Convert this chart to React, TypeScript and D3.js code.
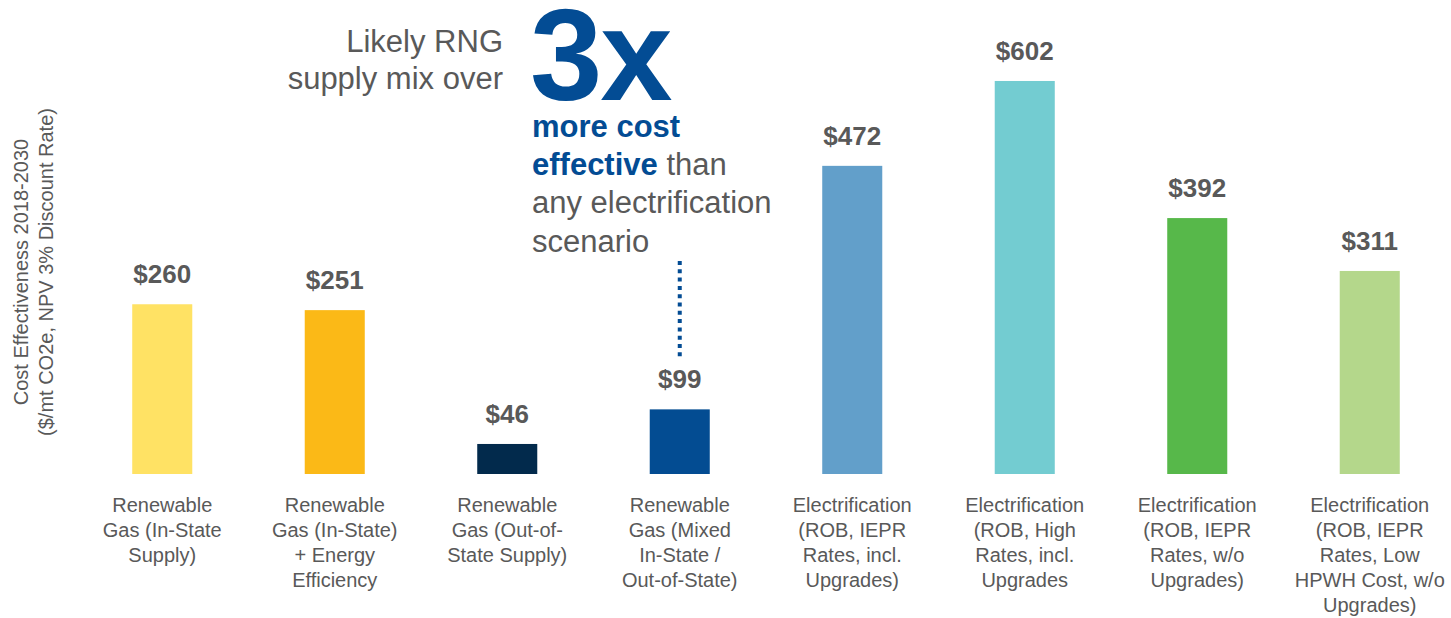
import React, { useEffect, useRef } from 'react'
import * as d3 from 'd3'

const categories: string[][] = [
  ['Renewable', 'Gas (In-State', 'Supply)'],
  ['Renewable', 'Gas (In-State)', '+ Energy', 'Efficiency'],
  ['Renewable', 'Gas (Out-of-', 'State Supply)'],
  ['Renewable', 'Gas (Mixed', 'In-State /', 'Out-of-State)'],
  ['Electrification', '(ROB, IEPR', 'Rates, incl.', 'Upgrades)'],
  ['Electrification', '(ROB, High', 'Rates, incl.', 'Upgrades'],
  ['Electrification', '(ROB, IEPR', 'Rates, w/o', 'Upgrades)'],
  ['Electrification', '(ROB, IEPR', 'Rates, Low', 'HPWH Cost, w/o', 'Upgrades)']
]

const values = [260, 251, 46, 99, 472, 602, 392, 311]

const barColors = ['#FFE264', '#FBB917', '#022A4C', '#034C92', '#629FCA', '#73CCD1', '#57B84A', '#B4D78B']

const axisTitle = ['Cost Effectiveness 2018-2030', '($/mt CO2e, NPV 3% Discount Rate)']

const GRAY = '#595959'
const BLUE = '#034C94'
const FONT = 'Arial, "Liberation Sans", sans-serif'

export default function App() {
  const ref = useRef<SVGSVGElement | null>(null)

  useEffect(() => {
    if (!ref.current) {
      return
    }
    const width = 1451
    const height = 618
    const baseline = 474

    const svg = d3.select(ref.current)
    svg.attr('viewBox', `0 0 ${width} ${height}`)
    svg.selectAll('*').remove()

    const ids = categories.map((_, i) => String(i))
    const x = d3.scaleBand().domain(ids).range([76, 1456]).paddingInner(0.652).paddingOuter(0.326)
    const y = d3.scaleLinear().domain([0, 700]).range([baseline, 17])

    const g = svg.append('g').attr('font-family', FONT)

    g.selectAll('rect.bar')
      .data(values)
      .enter()
      .append('rect')
      .attr('class', 'bar')
      .attr('x', (_, i) => x(String(i)) ?? 0)
      .attr('y', (d) => y(d))
      .attr('width', x.bandwidth())
      .attr('height', (d) => baseline - y(d))
      .attr('fill', (_, i) => barColors[i])

    g.selectAll('text.value')
      .data(values)
      .enter()
      .append('text')
      .attr('class', 'value')
      .attr('x', (_, i) => (x(String(i)) ?? 0) + x.bandwidth() / 2)
      .attr('y', (d) => y(d) - 21)
      .attr('text-anchor', 'middle')
      .attr('font-size', 26)
      .attr('font-weight', 'bold')
      .attr('fill', GRAY)
      .text((d) => `$${d}`)

    const labels = g
      .selectAll('text.cat')
      .data(categories)
      .enter()
      .append('text')
      .attr('class', 'cat')
      .attr('text-anchor', 'middle')
      .attr('font-size', 20)
      .attr('fill', GRAY)

    labels
      .selectAll('tspan')
      .data((d, i) => d.map((line) => ({ line, i })))
      .enter()
      .append('tspan')
      .attr('x', (d) => (x(String(d.i)) ?? 0) + x.bandwidth() / 2)
      .attr('y', (_, j) => 512 + j * 25)
      .text((d) => d.line)

    // axis title, rotated
    const title = g
      .append('text')
      .attr('transform', 'translate(28,272) rotate(-90)')
      .attr('text-anchor', 'middle')
      .attr('font-size', 20)
      .attr('fill', GRAY)
    axisTitle.forEach((line, j) => {
      title.append('tspan').attr('x', 0).attr('y', j * 25).text(line)
    })

    // annotation
    const note = g.append('g')
    note
      .append('text')
      .attr('x', 503)
      .attr('y', 52)
      .attr('text-anchor', 'end')
      .attr('font-size', 31)
      .attr('fill', GRAY)
      .text('Likely RNG')
    note
      .append('text')
      .attr('x', 503)
      .attr('y', 89)
      .attr('text-anchor', 'end')
      .attr('font-size', 31)
      .attr('fill', GRAY)
      .text('supply mix over')
    note
      .append('text')
      .attr('x', 530)
      .attr('y', 100)
      .attr('font-size', 130)
      .attr('font-weight', 'bold')
      .attr('letter-spacing', -2)
      .attr('fill', BLUE)
      .text('3x')

    const para = note.append('text').attr('font-size', 31).attr('fill', GRAY)
    para.append('tspan').attr('x', 532).attr('y', 137).attr('font-weight', 'bold').attr('fill', BLUE).text('more cost')
    para.append('tspan').attr('x', 532).attr('y', 175).attr('font-weight', 'bold').attr('fill', BLUE).text('effective')
    para.append('tspan').text(' than')
    para.append('tspan').attr('x', 532).attr('y', 213).text('any electrification')
    para.append('tspan').attr('x', 532).attr('y', 252).text('scenario')

    const cx = (x('3') ?? 0) + x.bandwidth() / 2
    note
      .append('line')
      .attr('x1', cx)
      .attr('x2', cx)
      .attr('y1', 261)
      .attr('y2', 357)
      .attr('stroke', BLUE)
      .attr('stroke-width', 4)
      .attr('stroke-dasharray', '4 4.3')
  }, [])

  return (
    <svg
      ref={ref}
      width={1451}
      height={618}
      style={{ position: 'absolute', left: 0, top: 0, background: '#fff' }}
    />
  )
}
